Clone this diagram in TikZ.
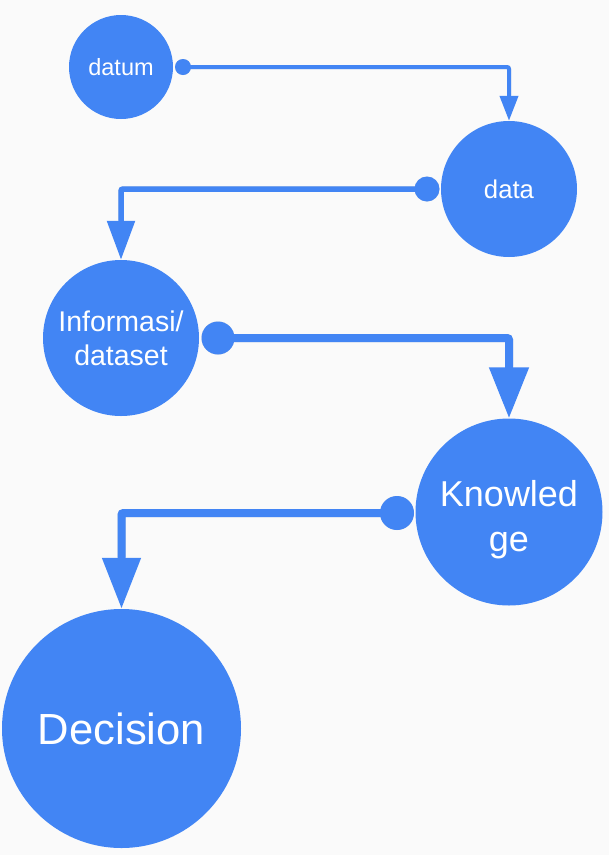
\documentclass[tikz,border=0pt]{standalone}
\usepackage{fontspec}
\setmainfont{Liberation Sans}
\usetikzlibrary{arrows.meta}
\definecolor{gblue}{HTML}{4285F4}
\definecolor{bgc}{HTML}{FAFAFA}
\begin{document}
\begin{tikzpicture}[x=1pt,y=-1pt,
  bubble/.style={circle,fill=gblue,inner sep=0pt,text=white,align=center},
  startdot/.style={circle,fill=gblue,inner sep=0pt},
  flow/.style={draw=gblue,rounded corners=2pt},
  shadowline/.style={draw=black,opacity=0.15,rounded corners=2pt}]
\fill[bgc] (0,0) rectangle (609,855);
\useasboundingbox (0,0) rectangle (609,855);

% circles
\node[bubble,minimum size=104pt,font=\fontsize{23.5}{28}\selectfont] (datum) at (121,67) {datum};
\node[bubble,minimum size=136pt,font=\fontsize{25.7}{30}\selectfont] (data) at (509,189) {data};
\node[bubble,minimum size=156pt,font=\fontsize{28.5}{34}\selectfont] (info) at (121,338) {Informasi/\\dataset};
\node[bubble,minimum size=187pt,font=\fontsize{36}{45}\selectfont] (know) at (509,512) {\raisebox{-14pt}[0pt][0pt]{\begin{tabular}{@{}c@{}}Knowled\\ge\end{tabular}}};
\node[bubble,minimum size=239pt,font=\fontsize{43.6}{50}\selectfont] (dec) at (121.5,728.5) {Decision};

% start dots positions
\coordinate (s1) at (183,67);
\coordinate (s2) at (427,189);
\coordinate (s3) at (218,338);
\coordinate (s4) at (397,513);

% shadows
\begin{scope}[shift={(1,2.5)}]
\draw[shadowline,line width=4pt] (s1) -| ([yshift=26pt]data.north);
\draw[shadowline,line width=5.5pt] (s2) -| ([yshift=40pt]info.north);
\draw[shadowline,line width=8pt] (s3) -| ([yshift=52pt]know.north);
\draw[shadowline,line width=8pt] (s4) -| ([yshift=52pt]dec.north);
\fill[black,opacity=0.15] (s2) circle (12.5);
\fill[black,opacity=0.15] (s3) circle (16.5);
\fill[black,opacity=0.15] (s4) circle (17);
\fill[black,opacity=0.15] (s1) circle (8);
\end{scope}

% connectors
\draw[flow,line width=4pt,-{Triangle[width=18pt,length=25pt]}] (s1) -| (data.north);
\draw[flow,line width=5.5pt,-{Triangle[width=27pt,length=39pt]}] (s2) -| (info.north);
\draw[flow,line width=8pt,-{Triangle[width=38pt,length=51pt]}] (s3) -| (know.north);
\draw[flow,line width=8pt,-{Triangle[width=37pt,length=51pt]}] (s4) -| (dec.north);

% dots
\node[startdot,minimum size=16pt] (d1) at (s1) {};
\node[startdot,minimum size=25pt] (d2) at (s2) {};
\node[startdot,minimum size=33pt] (d3) at (s3) {};
\node[startdot,minimum size=34pt] (d4) at (s4) {};
\end{tikzpicture}
\end{document}
